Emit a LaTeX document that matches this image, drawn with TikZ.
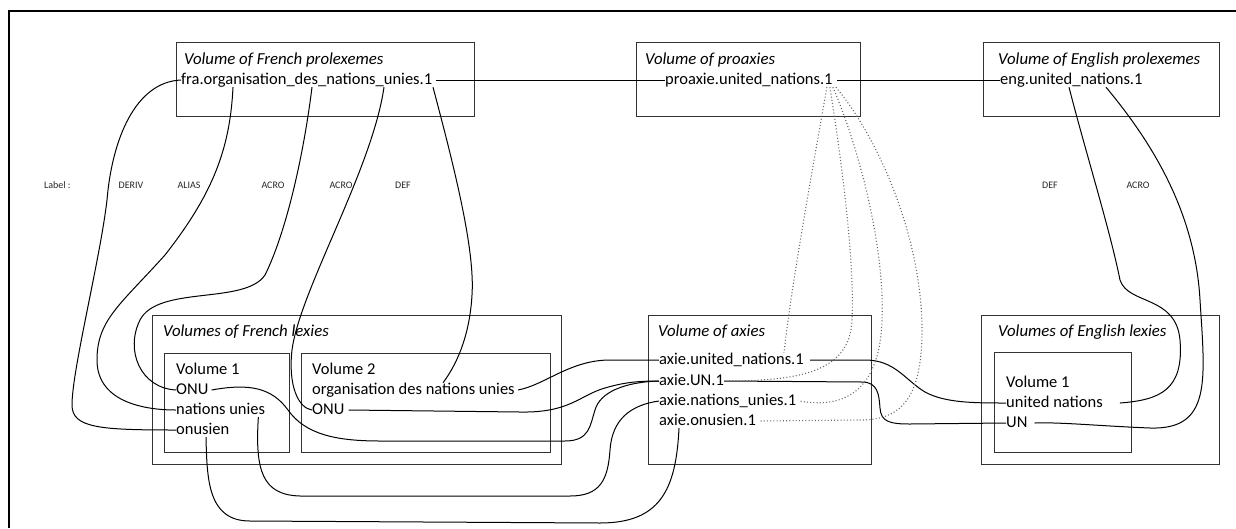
\documentclass[tikz,border=0pt]{standalone}
\usepackage{fontspec}
\setmainfont{Carlito}
\begin{document}
\begin{tikzpicture}
  [x=1pt,y=-1pt,
   every node/.style={inner sep=0pt},
   entry/.style={anchor=west,text height=11pt,text depth=3pt,font=\fontsize{16.5}{20}\selectfont},
   ttl/.style={entry,font=\fontsize{16.8}{20}\selectfont\itshape},
   vol/.style={draw=black!80,line width=1.2pt,anchor=north west},
   lbl/.style={font=\fontsize{10}{11}\selectfont,text=black!85},
   link/.style={line width=1pt},
   proxy/.style={line width=1.1pt,black!60,dash pattern=on 1pt off 2.2pt}]
  \useasboundingbox (0,0) rectangle (1236,528);
  \draw[line width=2.5pt] (1236,11) -| (9,528);

  % volumes
  \node[vol,minimum width=298pt,minimum height=74pt] (fpBox) at (176,42) {};
  \node[vol,minimum width=224pt,minimum height=74pt] (pxBox) at (636,42) {};
  \node[vol,minimum width=236pt,minimum height=74pt] (epBox) at (983,42) {};
  \node[vol,minimum width=409pt,minimum height=149pt] (frBox) at (152,315) {};
  \node[vol,minimum width=125pt,minimum height=99pt] (frBoxA) at (164,353) {};
  \node[vol,minimum width=249pt,minimum height=99pt] (frBoxB) at (301,353) {};
  \node[vol,minimum width=223pt,minimum height=149pt] (axBox) at (648,315) {};
  \node[vol,minimum width=238pt,minimum height=149pt] (enBox) at (981,315) {};
  \node[vol,minimum width=137pt,minimum height=100pt] (enBoxA) at (994,352) {};

  \node[ttl] (fpTitle) at (184,60) {Volume of French prolexemes};
  \node[entry] (fpEntry) at (181,80) {fra.organisation\_des\_nations\_unies.1};
  \node[ttl] (pxTitle) at (645,60) {Volume of proaxies};
  \node[entry] (pxEntry) at (665,80) {proaxie.united\_nations.1};
  \node[ttl] (epTitle) at (998,60) {Volume of English prolexemes};
  \node[entry] (epEntry) at (1000,80) {eng.united\_nations.1};

  \node[ttl] (frTitle) at (163,332) {Volumes of French lexies};
  \node[entry] (frVolA) at (176,370) {Volume 1};
  \node[entry] (frOnuA) at (176,390) {ONU};
  \node[entry] (frNat) at (176,410) {nations unies};
  \node[entry] (frOnusien) at (176,430) {onusien};
  \node[entry] (frVolB) at (312,370) {Volume 2};
  \node[entry] (frOrg) at (312,390) {organisation des nations unies};
  \node[entry] (frOnuB) at (312,410) {ONU};

  \node[ttl] (axTitle) at (658,332) {Volume of axies};
  \node[entry] (axUnited) at (659,360) {axie.united\_nations.1};
  \node[entry] (axUN) at (659,381) {axie.UN.1};
  \node[entry] (axNat) at (659,401) {axie.nations\_unies.1};
  \node[entry] (axOnu) at (659,421) {axie.onusien.1};

  \node[ttl] (enTitle) at (998,332) {Volumes of English lexies};
  \node[entry] (enVol) at (1006,383) {Volume 1};
  \node[entry] (enUnited) at (1006,403) {united nations};
  \node[entry] (enUN) at (1006,423) {UN};

  % labels
  \node[lbl,anchor=west] (lblKey) at (44,185) {Label :};
  \foreach \x/\t in {131/DERIV,189/ALIAS,273/ACRO,341/ACRO,403/DEF,1050/DEF,1138/ACRO}
    \node[lbl] (lbl\x) at (\x,185) {\t};

  \foreach \from/\to in {fpEntry/pxEntry,pxEntry/epEntry}
    \draw[link] ([xshift=4pt]\from.east) -- (\to.west);

  % French prolexemes to French lexies
  \draw[link] (fpEntry.west) .. controls (135,82) and (112,140) .. (107,200)
    .. controls (100,260) and (72,370) .. (72,405)
    .. controls (72,428) and (100,430) .. (frOnusien.west);
  \draw[link] ([xshift=52pt]fpEntry.south west) .. controls (230,150) and (212,195) .. (165,255)
    .. controls (120,305) and (97,320) .. (97,360)
    .. controls (97,400) and (140,410) .. (frNat.west);
  \draw[link] ([xshift=131pt]fpEntry.south west) .. controls (303,160) and (285,235) .. (265,275)
    .. controls (245,305) and (158,285) .. (140,320)
    .. controls (125,350) and (140,388) .. (frOnuA.west);
  \draw[link] ([xshift=203pt]fpEntry.south west) .. controls (372,170) and (300,290) .. (292,350)
    .. controls (288,385) and (298,408) .. (frOnuB.west);
  \draw[link] ([xshift=252pt]fpEntry.south west) .. controls (455,170) and (475,250) .. (472,295)
    .. controls (470,330) and (460,360) .. ([xshift=131pt]frOrg.north west);

  % French lexies to axies
  \draw[link] ([xshift=3pt]frOrg.east) .. controls (545,385) and (570,360) .. (610,360) -- (axUnited.west);
  \draw[link] ([xshift=4pt]frOnuB.east) -- (520,412) .. controls (570,413) and (580,395) .. (605,388)
    .. controls (625,382) and (640,381) .. (axUN.west);
  \draw[link] ([xshift=3pt]frOnuA.east) .. controls (250,383) and (272,388) .. (288,410)
    .. controls (305,434) and (335,441) .. (380,441) -- (565,441)
    .. controls (590,441) and (590,425) .. (595,410)
    .. controls (600,392) and (625,382) .. (axUN.west);
  \draw[link] ([xshift=-7pt]frNat.south east) .. controls (255,470) and (262,495) .. (300,496) -- (570,496)
    .. controls (600,496) and (608,480) .. (610,450)
    .. controls (612,420) and (630,405) .. (axNat.west);
  \draw[link] ([xshift=30pt]frOnusien.south west) .. controls (207,480) and (208,521) .. (250,521) -- (600,523)
    .. controls (660,523) and (676,490) .. ([xshift=20pt]axOnu.south west);

  % axies to English lexies
  \draw[link] ([xshift=6pt]axUnited.east) -- (865,360) .. controls (895,360) and (905,380) .. (925,392)
    .. controls (945,403) and (975,403) .. (enUnited.west);
  \draw[link] (axUN.east) -- (862,382) .. controls (878,382) and (879,395) .. (880,408)
    .. controls (881,422) and (890,424) .. (910,424) -- (enUN.west);

  % English prolexemes to English lexies
  \draw[link] ([xshift=69pt]epEntry.south west) .. controls (1085,150) and (1110,230) .. (1120,280)
    .. controls (1128,305) and (1176,295) .. (1180,340)
    .. controls (1184,390) and (1160,400) .. ([xshift=17pt]enUnited.east);
  \draw[link] ([xshift=106pt]epEntry.south west) .. controls (1150,140) and (1195,210) .. (1200,300)
    .. controls (1205,380) and (1212,430) .. (1150,428)
    .. controls (1100,426) and (1060,422) .. ([xshift=7pt]enUN.east);

  % proaxie to axies
  \draw[proxy] ([xshift=-6pt]pxEntry.south east) .. controls (816,150) and (792,280) .. ([xshift=125pt]axUnited.north west);
  \draw[proxy] ([xshift=-3pt]pxEntry.south east) .. controls (840,150) and (855,260) .. (852,320)
    .. controls (850,372) and (800,381) .. (axUN.east);
  \draw[proxy] (pxEntry.south east) .. controls (860,150) and (885,250) .. (882,320)
    .. controls (880,385) and (850,410) .. ([xshift=3pt]axNat.east);
  \draw[proxy] ([xshift=3pt]pxEntry.south east) .. controls (880,140) and (922,240) .. (922,330)
    .. controls (922,400) and (900,420) .. (860,420) -- ([xshift=3pt]axOnu.east);
\end{tikzpicture}
\end{document}
